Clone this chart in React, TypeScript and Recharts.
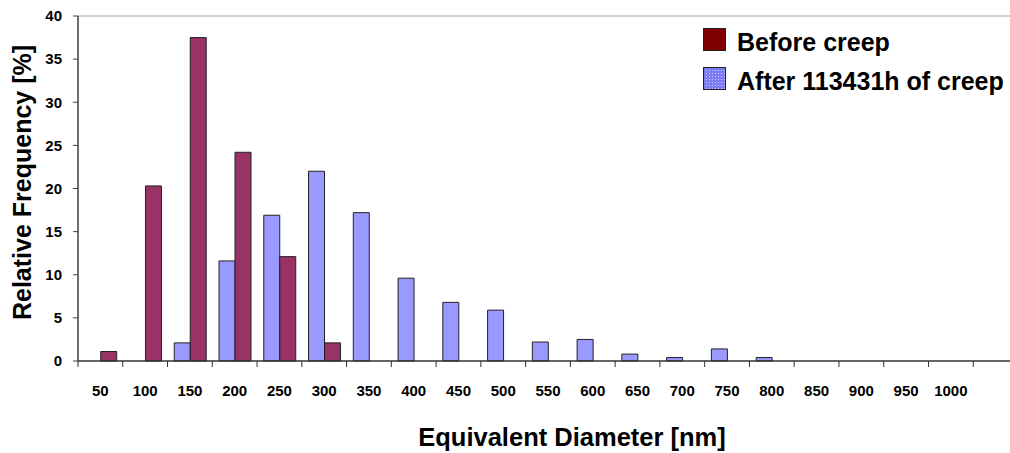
import React from 'react';
import { BarChart, Bar, XAxis, YAxis, ReferenceLine, Legend, Label } from 'recharts';

const categories = ['50', '100', '150', '200', '250', '300', '350', '400', '450', '500', '550', '600', '650', '700', '750', '800', '850', '900', '950', '1000', ''];
const beforeCreep: (number | null)[] = [1.1, 20.3, 37.5, 24.2, 12.1, 2.1, null, null, null, null, null, null, null, null, null, null, null, null, null, null, null];
const afterCreep: (number | null)[] = [null, null, 2.1, 11.6, 16.9, 22.0, 17.2, 9.6, 6.8, 5.9, 2.2, 2.5, 0.8, 0.4, 1.4, 0.4, null, null, null, null, null];
const yTicks = [0, 5, 10, 15, 20, 25, 30, 35, 40];
const legendItems = [
  { name: 'Before creep', kind: 'before' },
  { name: 'After 113431h of creep', kind: 'after' },
];

const data = categories.map((c, i) => ({ name: c, before: beforeCreep[i], after: afterCreep[i] }));

const FONT = '"Liberation Sans", Arial, Helvetica, sans-serif';
const CHART_W = 1030;
const CHART_H = 453;
const MARGIN = { top: 16, right: 12, bottom: 0, left: 0 };
const Y_W = 78;
const BAND = (CHART_W - MARGIN.left - MARGIN.right - Y_W) / categories.length;

const XTick = (props: any) => {
  const { x, y, payload } = props;
  const left = x - BAND / 2;
  return (
    <g>
      <line x1={left} x2={left} y1={y} y2={y + 6} stroke="#333" strokeWidth={1} />
      <text x={x} y={y + 35} textAnchor="middle" fontFamily={FONT} fontWeight="bold" fontSize={15} fill="#000">
        {payload.value}
      </text>
    </g>
  );
};

const YTitle = (props: any) => {
  const vb = props.viewBox || { x: 0, y: 0, width: 0, height: 0 };
  const x = vb.x + 22;
  const y = vb.y + vb.height / 2 - 6;
  return (
    <text x={x} y={y} transform={`rotate(-90, ${x}, ${y})`} textAnchor="middle" dominantBaseline="central"
      fontFamily={FONT} fontWeight="bold" fontSize={25} fill="#000">
      Relative Frequency [%]
    </text>
  );
};

const XTitle = (props: any) => {
  const vb = props.viewBox || { x: 0, y: 0, width: 0, height: 0 };
  const x = vb.x + vb.width / 2 + 24;
  const y = vb.y + 85;
  return (
    <text x={x} y={y} textAnchor="middle" fontFamily={FONT} fontWeight="bold" fontSize={25.5} fill="#000">
      Equivalent Diameter [nm]
    </text>
  );
};

const Swatch = ({ kind }: { kind: string }) => (
  <svg width={23} height={23} style={{ display: 'block', flex: 'none' }}>
    <defs>
      <pattern id="dots" width="3" height="3" patternUnits="userSpaceOnUse">
        <rect width="3" height="3" fill="#7c7cf2" />
        <rect width="1" height="1" fill="#c8c8ff" />
      </pattern>
    </defs>
    <rect x={0.5} y={0.5} width={22} height={22} fill={kind === 'before' ? '#800000' : 'url(#dots)'} stroke="#222" strokeWidth={1} />
  </svg>
);

const LegendContent = () => (
  <div style={{ fontFamily: FONT, fontWeight: 'bold', fontSize: 25, color: '#000' }}>
    {legendItems.map((it, i) => (
      <div key={it.name} style={{ display: 'flex', alignItems: 'center', height: 23, marginBottom: i === 0 ? 16 : 0, whiteSpace: 'nowrap' }}>
        <Swatch kind={it.kind} />
        <span style={{ marginLeft: 11, lineHeight: '23px', position: 'relative', top: 3 }}>{it.name}</span>
      </div>
    ))}
  </div>
);

export default function App() {
  return (
    <div style={{ position: 'absolute', left: 0, top: 0, width: 1010, height: 453, overflow: 'hidden', background: '#fff' }}>
      <BarChart width={CHART_W} height={CHART_H} data={data} margin={MARGIN} barCategoryGap="15%" barGap={0}>
        <ReferenceLine y={40} stroke="#c0c0c0" strokeWidth={1.5} ifOverflow="extendDomain" />
        <XAxis dataKey="name" interval={0} tickSize={0} tickMargin={0} tickLine={false} tick={<XTick />}
          axisLine={{ stroke: '#333', strokeWidth: 1.5 }} height={92}>
          <Label content={<XTitle />} />
        </XAxis>
        <YAxis domain={[0, 40]} ticks={yTicks} width={Y_W} tickSize={5} tickMargin={11} interval={0}
          axisLine={{ stroke: '#404040', strokeWidth: 1.5 }} tickLine={{ stroke: '#404040' }}
          tick={{ fill: '#000', fontSize: 15, fontWeight: 'bold', fontFamily: FONT }}>
          <Label content={<YTitle />} />
        </YAxis>
        <Legend layout="vertical" align="center" verticalAlign="middle" content={<LegendContent />}
          wrapperStyle={{ left: 703, top: 28, width: 330 }} />
        <Bar dataKey="after" name="After 113431h of creep" fill="#9999FF" stroke="#222" strokeWidth={1} isAnimationActive={false} />
        <Bar dataKey="before" name="Before creep" fill="#993366" stroke="#222" strokeWidth={1} isAnimationActive={false} />
      </BarChart>
    </div>
  );
}
